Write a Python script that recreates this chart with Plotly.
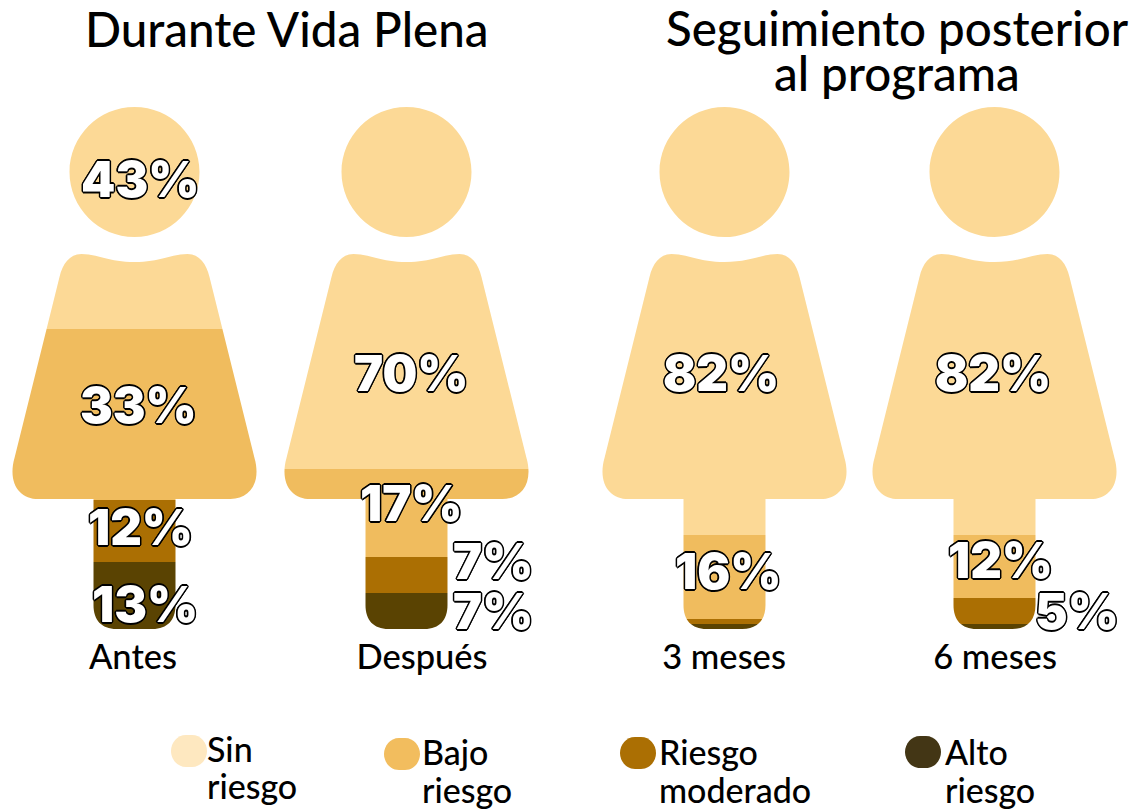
import plotly.graph_objects as go

# ---- data ----
people = ["Antes", "Después", "3 meses", "6 meses"]
categories = ["Sin riesgo", "Bajo riesgo", "Riesgo moderado", "Alto riesgo"]
sin_riesgo = [43, 70, 82, 82]
bajo_riesgo = [33, 17, 16, 12]
riesgo_moderado = [12, 7, 1, 5]
alto_riesgo = [13, 7, 1, 1]
titles = ["Durante Vida Plena", "Seguimiento posterior", "al programa"]

# ---- styles / layout constants (pixels of the 1129x810 page) ----
W, H = 1129, 810
series = [sin_riesgo, bajo_riesgo, riesgo_moderado, alto_riesgo]
bar_colors = ["#FCD996", "#F0BC5E", "#AB6F03", "#5A4302"]
legend_colors = ["#FEE8C0", "#F2BD5E", "#AB6F03", "#433615"]
centers = [134.5, 406.5, 724.5, 994.5]
tick_pos = [133, 422, 724, 995]
TOP, BOTTOM = 107, 629
BODY = "Lato"
LABEL = "Inter"

px = lambda v: v / W
py = lambda v: 1 - v / H


def P(x, y):
    return f"{px(x):.5f},{py(y):.5f}"


def silhouette(cx):
    hy, r, k = 172, 65, 65 * 0.5523
    s = (
        f"M{P(cx - r, hy)} "
        f"C{P(cx - r, hy - k)} {P(cx - k, hy - r)} {P(cx, hy - r)} "
        f"C{P(cx + k, hy - r)} {P(cx + r, hy - k)} {P(cx + r, hy)} "
        f"C{P(cx + r, hy + k)} {P(cx + k, hy + r)} {P(cx, hy + r)} "
        f"C{P(cx - k, hy + r)} {P(cx - r, hy + k)} {P(cx - r, hy)} Z "
    )
    s += f"M{P(cx - 53, 254)} "
    s += f"C{P(cx - 38, 254)} {P(cx - 25, 262)} {P(cx, 262)} "
    s += f"C{P(cx + 25, 262)} {P(cx + 38, 254)} {P(cx + 53, 254)} "
    s += f"C{P(cx + 65, 254)} {P(cx + 72, 264)} {P(cx + 75, 277)} "
    s += f"L{P(cx + 120, 458)} "
    s += f"C{P(cx + 127, 483)} {P(cx + 115, 499)} {P(cx + 96, 499)} "
    s += f"L{P(cx + 41, 499)} L{P(cx + 41, 605)} "
    s += f"C{P(cx + 41, 620)} {P(cx + 33, 629)} {P(cx + 18, 629)} "
    s += f"L{P(cx - 18, 629)} "
    s += f"C{P(cx - 33, 629)} {P(cx - 41, 620)} {P(cx - 41, 605)} "
    s += f"L{P(cx - 41, 499)} L{P(cx - 96, 499)} "
    s += f"C{P(cx - 115, 499)} {P(cx - 127, 483)} {P(cx - 120, 458)} "
    s += f"L{P(cx - 75, 277)} "
    s += f"C{P(cx - 72, 264)} {P(cx - 65, 254)} {P(cx - 53, 254)} Z "
    return s


mask = f"M{P(0, 100)} L{P(W, 100)} L{P(W, 633)} L{P(0, 633)} Z " + "".join(
    silhouette(c) for c in centers
)

fig = go.Figure()
for name, vals, col in zip(categories, series, bar_colors):
    fig.add_bar(x=centers, y=vals, name=name, width=262, marker=dict(color=col, line=dict(width=0)),
                hoverinfo="skip", showlegend=False)

shapes = [dict(type="path", path=mask, xref="paper", yref="paper", fillcolor="white",
               line=dict(width=0), layer="above")]

annotations = []


def text(x, y, s, size, anchor="center", **font):
    annotations.append(dict(x=px(x), y=py(y), xref="paper", yref="paper", text=s, showarrow=False,
                            xanchor=anchor, yanchor="middle", xshift=0,
                            font=dict(size=size, color=font.pop("color", "#000"),
                                      family=font.pop("family", BODY), **font)))


# titles
TITLE_SIZE = 47.5
text(286.5, 29, titles[0], TITLE_SIZE, weight=500)
text(897, 28, titles[1], TITLE_SIZE, weight=500)
text(897, 72, titles[2], TITLE_SIZE, weight=500)

# percent labels: (person, category) -> centre of label in page pixels
label_xy = {
    (0, 0): (140, 179), (0, 1): (138, 405), (0, 2): (140, 527), (0, 3): (145, 604),
    (1, 0): (411, 374), (1, 1): (411, 503), (1, 2): (493, 561), (1, 3): (493, 611),
    (2, 0): (721, 374), (2, 1): (728, 571),
    (3, 0): (993, 374), (3, 1): (1000, 560), (3, 2): (1077, 611),
}
o = 1.6
d = o * 0.7
outline = ", ".join(f"{a}px {b}px 0 #000" for a, b in [
    (o, 0), (-o, 0), (0, o), (0, -o), (d, d), (-d, d), (d, -d), (-d, -d)])
for (p, c), (x, y) in label_xy.items():
    text(x, y, f"{series[c][p]}%", 49, family=LABEL, color="white", weight=900, shadow=outline)

# legend
legend_xy = [(171, 735, 205), (384, 738, 420), (620, 737, 657), (905, 736, 943)]
legend_lines = [(748, 785), (751, 789), (751, 789), (751, 789)]
for cat, col, (sx, sy, tx), lines in zip(categories, legend_colors, legend_xy, legend_lines):
    a, b, rr = sx + 36, sy + 32, 15
    path = (f"M{P(sx + rr, sy)} L{P(a - rr, sy)} C{P(a - 6, sy)} {P(a, sy + 8)} {P(a, sy + 16)} "
            f"C{P(a, sy + 24)} {P(a - 6, b)} {P(a - rr, b)} L{P(sx + rr, b)} "
            f"C{P(sx + 6, b)} {P(sx, sy + 24)} {P(sx, sy + 16)} C{P(sx, sy + 8)} {P(sx + 6, sy)} {P(sx + rr, sy)} Z")
    shapes.append(dict(type="path", path=path, xref="paper", yref="paper", fillcolor=col,
                       line=dict(width=0), layer="above"))
    for word, ly in zip(cat.split(" "), lines):
        text(tx, ly, word, 34, anchor="left", weight=500)

fig.update_layout(
    width=W, height=H, margin=dict(l=0, r=0, t=0, b=0),
    paper_bgcolor="white", plot_bgcolor="white",
    barmode="stack", barnorm="percent", bargap=0,
    shapes=shapes, annotations=annotations, showlegend=False,
    xaxis=dict(range=[0, W], domain=[0, 1], tickmode="array", tickvals=tick_pos, ticktext=people,
               showgrid=False, zeroline=False, showline=False, ticks="",
               ticklabelstandoff=4, tickfont=dict(family=BODY, size=34.5, color="#000", weight=500)),
    yaxis=dict(range=[100, 0], domain=[py(BOTTOM), py(TOP)], visible=False, showgrid=False),
)

fig.write_html("out.html", config={"displayModeBar": False},
               post_script="document.body.style.margin='0';document.body.style.overflow='hidden';")
